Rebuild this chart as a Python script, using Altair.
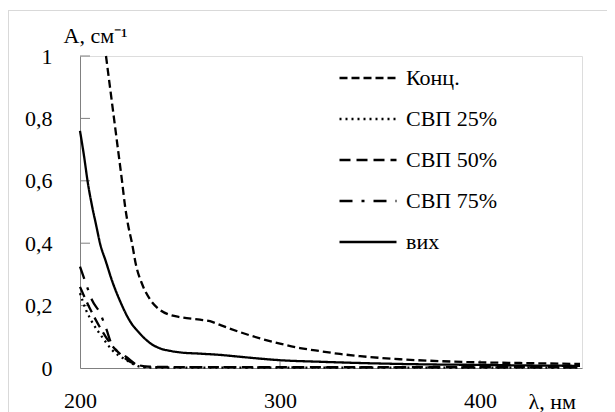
import altair as alt
import pandas as pd

series_names = ["Конц.", "СВП 25%", "СВП 50%", "СВП 75%", "вих"]

konc_x = [213, 215, 217, 219, 221, 222.5, 224, 226, 228, 231, 235, 240, 245, 250, 260, 265, 270, 280, 290, 300, 310, 320, 330, 340, 360, 380, 400, 420, 450]
konc_y = [1.0, 0.9, 0.8, 0.7, 0.6, 0.52, 0.46, 0.4, 0.33, 0.27, 0.22, 0.186, 0.17, 0.163, 0.155, 0.15, 0.138, 0.115, 0.095, 0.078, 0.064, 0.054, 0.045, 0.038, 0.028, 0.022, 0.018, 0.016, 0.013]

svp25_x = [200, 203, 206, 211, 216, 223, 229, 233, 240, 260, 300, 350, 400, 450]
svp25_y = [0.24, 0.186, 0.148, 0.10, 0.058, 0.026, 0.006, 0.002, 0.001, 0.001, 0.001, 0.001, 0.001, 0.001]

svp50_x = [200, 205, 210, 215, 220, 225, 230, 235, 250, 300, 350, 400, 450]
svp50_y = [0.26, 0.19, 0.13, 0.08, 0.045, 0.02, 0.008, 0.004, 0.003, 0.003, 0.003, 0.003, 0.003]

svp75_x = [200, 203, 206, 210, 213, 216, 223, 231, 240, 260, 300, 350, 400, 450]
svp75_y = [0.325, 0.27, 0.218, 0.176, 0.128, 0.074, 0.036, 0.004, 0.003, 0.003, 0.002, 0.002, 0.002, 0.002]

vyh_x = [200, 202, 204, 206, 208, 210, 213, 216, 220, 225, 230, 235, 240, 245, 250, 260, 270, 280, 290, 300, 320, 340, 360, 380, 400, 425, 450]
vyh_y = [0.76, 0.68, 0.59, 0.52, 0.46, 0.40, 0.34, 0.28, 0.215, 0.15, 0.11, 0.08, 0.063, 0.055, 0.05, 0.046, 0.042, 0.036, 0.03, 0.025, 0.02, 0.016, 0.013, 0.011, 0.01, 0.008, 0.007]

y_tick_values = [0.2, 0.4, 0.6, 0.8, 1.0]
y_label_values = [0, 0.2, 0.4, 0.6, 0.8, 1.0]
x_tick_values = [300, 400]
x_label_values = [200, 300, 400]

dash_patterns = [[8, 4], [2, 4], [11, 6], [13, 9, 3, 9], [1, 0]]

rows = []
for name, xs, ys in zip(series_names,
                        [konc_x, svp25_x, svp50_x, svp75_x, vyh_x],
                        [konc_y, svp25_y, svp50_y, svp75_y, vyh_y]):
    for xv, yv in zip(xs, ys):
        rows.append({"s": name, "wl": xv, "a": yv})
df = pd.DataFrame(rows)

FONT = "Liberation Serif, Times New Roman, serif"
AX_COLOR = "#808080"

x_scale = alt.Scale(domain=[200, 451], nice=False)
y_scale = alt.Scale(domain=[0, 1], nice=False)

x_axis = alt.Axis(values=x_label_values, ticks=False, grid=False, domainColor=AX_COLOR,
                  labelFont=FONT, labelFontSize=22, labelColor="black", labelPadding=22,
                  labelFlush=False, labelOverlap=False,
                  title="λ, нм", titleFont=FONT, titleFontSize=22, titleFontWeight="normal",
                  titleColor="black", titleAngle=0, titleAlign="left", titleBaseline="alphabetic",
                  titleX=448, titleY=40)
y_axis = alt.Axis(values=y_label_values, ticks=False, grid=False, domainColor=AX_COLOR,
                  labelFont=FONT, labelFontSize=22, labelColor="black", labelPadding=28,
                  labelFlush=False, labelOverlap=False,
                  labelExpr="datum.value == 0 ? '0' : (datum.value == 1 ? '1' : replace(format(datum.value, '.1f'), '.', ','))",
                  title="А, см⁻¹", titleFont=FONT, titleFontSize=22, titleFontWeight="normal",
                  titleColor="black", titleAngle=0, titleAlign="left", titleBaseline="alphabetic",
                  titleX=-17, titleY=-14)

lines = alt.Chart(df).mark_line(color="black", strokeWidth=2.3, interpolate="monotone").encode(
    x=alt.X("wl:Q", scale=x_scale, axis=x_axis),
    y=alt.Y("a:Q", scale=y_scale, axis=y_axis),
    strokeDash=alt.StrokeDash("s:N", scale=alt.Scale(domain=series_names, range=dash_patterns),
                              legend=alt.Legend(title=None, orient="none", legendX=258, legendY=-8,
                                                symbolType="stroke", symbolSize=3249,
                                                symbolStrokeColor="black", symbolStrokeWidth=2.3,
                                                labelFont=FONT, labelFontSize=22, labelColor="black",
                                                labelOffset=8, rowPadding=0, padding=0)),
)

ytick_df = pd.DataFrame({"a": y_tick_values})
yticks = alt.Chart(ytick_df).mark_rule(color=AX_COLOR, strokeWidth=1).encode(
    y=alt.Y("a:Q", scale=y_scale, axis=y_axis),
    x=alt.value(0), x2=alt.value(10))

xtick_df = pd.DataFrame({"wl": x_tick_values})
xticks = alt.Chart(xtick_df).mark_rule(color=AX_COLOR, strokeWidth=1).encode(
    x=alt.X("wl:Q", scale=x_scale, axis=x_axis),
    y=alt.value(312), y2=alt.value(304))

frame_df = pd.DataFrame({"k": [0]})
frame_left = alt.Chart(frame_df).mark_rule(color="#d9d9d9", strokeWidth=1).encode(
    x=alt.value(-71.5), y=alt.value(-46), y2=alt.value(370))
frame_top = alt.Chart(frame_df).mark_rule(color="#d9d9d9", strokeWidth=1).encode(
    y=alt.value(-45.5), x=alt.value(-72), x2=alt.value(540))

chart = alt.layer(frame_left, frame_top, yticks, xticks, lines).properties(
    width=502, height=312,
    autosize=alt.AutoSizeParams(type="none"),
    padding={"left": 72, "top": 48, "right": 25, "bottom": 44},
).configure_view(stroke=None).configure(font=FONT, background="white")

chart.save("out.html", embed_options={"renderer": "svg", "actions": False})
